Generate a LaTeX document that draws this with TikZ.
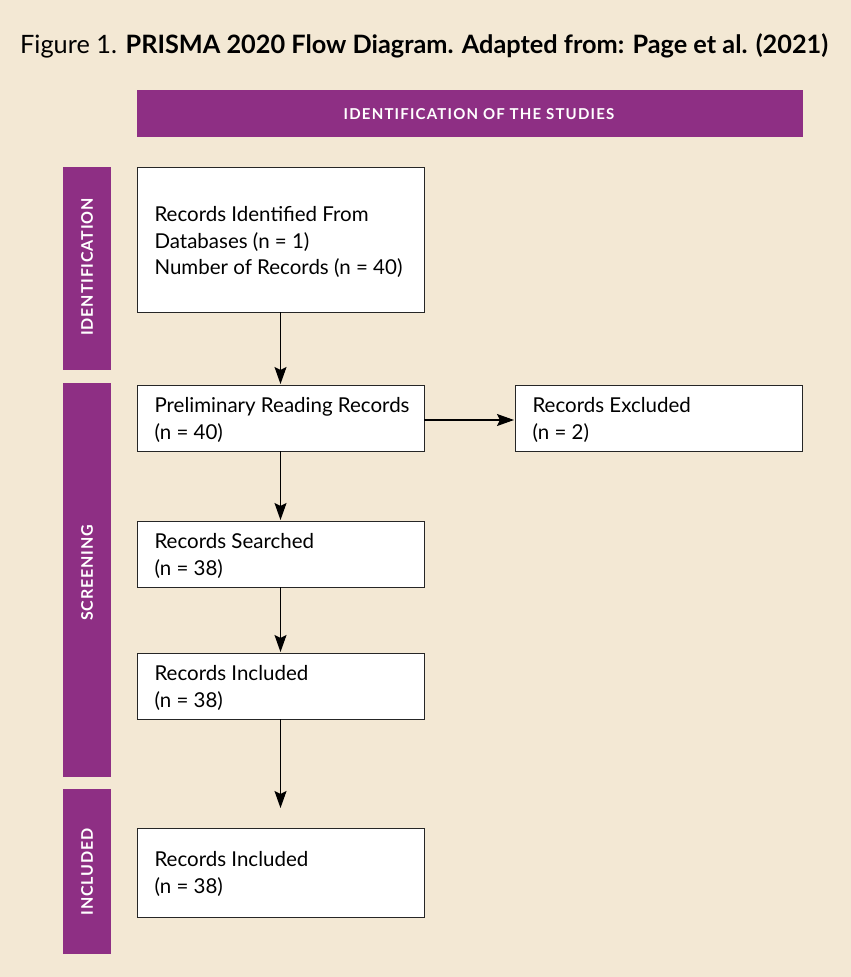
\documentclass[tikz,border=0pt]{standalone}
\usepackage{fontspec}
\setmainfont{Lato}
\usetikzlibrary{arrows.meta}
\definecolor{bgc}{HTML}{F3E8D4}
\definecolor{purp}{HTML}{8E2F84}
\tikzset{
  px/.style={x=1pt,y=-1pt},
  box/.style={draw=black!85,line width=0.9pt,fill=white},
  bar/.style={fill=purp,draw=none},
  barlbl/.style={text=white,font=\bfseries\fontsize{16}{18}\selectfont\addfontfeature{LetterSpace=5},rotate=90},
  btxt/.style={anchor=west,align=left,font=\fontsize{20.5}{26.5}\selectfont,text=black},
  arr/.style={-{Stealth[length=17pt,width=12pt,inset=3pt]},line width=1.1pt,black}
}
\begin{document}
\begin{tikzpicture}[px]
\fill[bgc] (0,0) rectangle (851,977);
\useasboundingbox (0,0) rectangle (851,977);
% title
\node[anchor=base west,inner sep=0pt,font=\fontsize{25.3}{29}\selectfont] (title) at (20,53)
  {Figure 1. \textbf{PRISMA 2020 Flow Diagram. Adapted from: Page et al. (2021)}};
% header
\fill[bar] (137,90) rectangle (803,137);
\node[text=white,font=\bfseries\fontsize{15}{17}\selectfont\addfontfeature{LetterSpace=8}] (hdr) at (479,114) {IDENTIFICATION OF THE STUDIES};
% side bars
\fill[bar] (63,167) rectangle (111,370);
\node[barlbl] (s1) at (87,267) {IDENTIFICATION};
\fill[bar] (63,383) rectangle (111,777);
\node[barlbl] (s2) at (87,573) {SCREENING};
\fill[bar] (63,789) rectangle (111,954);
\node[barlbl] (s3) at (87,872) {INCLUDED};
% boxes
\draw[box] (137,167) rectangle (424,312);
\coordinate (b1s) at (280.5,312);
\node[btxt] (t1) at (151,242) {Records Identified From\\Databases (n = 1)\\Number of Records (n = 40)};

\draw[box] (137,385) rectangle (424,451);
\coordinate (b2n) at (280.5,384);
\coordinate (b2s) at (280.5,451);
\coordinate (b2e) at (424,420);
\node[btxt] (t2) at (151,420) {Preliminary Reading Records\\(n = 40)};

\draw[box] (515,385) rectangle (802,451);
\coordinate (exw) at (514,420);
\node[btxt] (t3) at (529,420) {Records Excluded\\(n = 2)};

\draw[box] (137,521) rectangle (424,587);
\coordinate (b3n) at (280.5,520);
\coordinate (b3s) at (280.5,587);
\node[btxt] (t4) at (151,556) {Records Searched\\(n = 38)};

\draw[box] (137,653) rectangle (424,719);
\coordinate (b4n) at (280.5,652);
\coordinate (b4s) at (280.5,719);
\node[btxt] (t5) at (151,688) {Records Included\\(n = 38)};

\draw[box] (137,828) rectangle (424,917);
\coordinate (b5end) at (280.5,808);
\node[btxt] (t6) at (151,874) {Records Included\\(n = 38)};

% arrows
\draw[arr] (b1s) -- (b2n);
\draw[arr] (b2e) -- (exw);
\draw[arr] (b2s) -- (b3n);
\draw[arr] (b3s) -- (b4n);
\draw[arr] (b4s) -- (b5end);
\end{tikzpicture}
\end{document}
